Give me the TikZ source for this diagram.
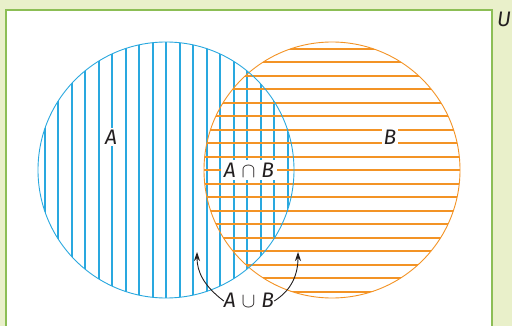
\documentclass[tikz,border=0pt]{standalone}
\usepackage{fontspec}
\newfontfamily\labfont{Fira Sans}
\usetikzlibrary{arrows.meta}
\definecolor{bgg}{RGB}{233,240,202}
\definecolor{frameg}{RGB}{140,190,85}
\definecolor{ablue}{RGB}{41,168,223}
\definecolor{borange}{RGB}{243,147,37}
\definecolor{txt}{RGB}{35,31,32}
\tikzset{
  setcirc/.style={circle, draw, minimum size=256pt, inner sep=0pt, line width=0.9pt},
  lab/.style={font=\labfont\itshape\fontsize{21}{23}\selectfont, text=txt, fill=white, inner sep=2pt},
  hatchA/.style={ablue, line width=1.7pt},
  hatchB/.style={borange, line width=1.7pt},
  arr/.style={-{Stealth[length=9pt,width=6pt]}, line width=0.9pt, txt}
}
\newcommand{\symop}[1]{\;$#1$\;}
\begin{document}
\begin{tikzpicture}[x=1pt,y=-1pt]
\useasboundingbox (0,0) rectangle (512,326);
\fill[bgg] (0,0) rectangle (512,326);
\draw[frameg, line width=1.5pt, fill=white] (6,10) rectangle (492,340);
% hatching A
\begin{scope}
  \clip (166,170) circle (128);
  \foreach \k in {-9,...,9} {
    \pgfmathsetmacro{\xx}{round(166+13.5*\k)}
    \draw[hatchA] (\xx,40) -- (\xx,300);
  }
\end{scope}
% hatching B
\begin{scope}
  \clip (332,170) circle (128);
  \foreach \k in {-9,...,9} {
    \pgfmathsetmacro{\yy}{round(170+13.5*\k)}
    \draw[hatchB] (200,\yy) -- (462,\yy);
  }
\end{scope}
\node[setcirc, draw=borange] (B) at (332,170) {};
\node[setcirc, draw=ablue] (A) at (166,170) {};
\node[lab] (lA) at (111,137) {A};
\node[lab] (lB) at (390,137) {B};
\node[lab, inner xsep=3pt, inner ysep=3pt] (lAB) at (249,170) {A\symop{\cap}B};
\node[lab, fill=none] (lAuB) at (249,300) {A\symop{\cup}B};
\node[lab, fill=none] (lU) at (504,19) {U};
\coordinate (tL) at (197,252);
\coordinate (tR) at (298,252);
\draw[arr] ([xshift=2pt,yshift=-1pt]lAuB.west) .. controls (204,286) and (197,272) .. (tL);
\draw[arr] ([xshift=-2pt,yshift=-1pt]lAuB.east) .. controls (292,290) and (298,274) .. (tR);
\end{tikzpicture}
\end{document}
